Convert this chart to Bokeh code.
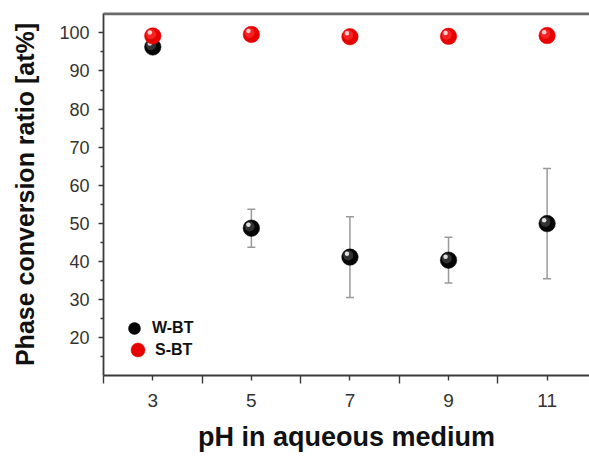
from bokeh.plotting import figure
from bokeh.models import (Range1d, FixedTicker, Whisker, ColumnDataSource, Legend,
                          LegendItem, TeeHead, LinearAxis, Span)
from bokeh.embed import file_html
from bokeh.resources import INLINE

# ---- data ----
ph = [3, 5, 7, 9, 11]
wbt = [96.3, 48.7, 41.1, 40.3, 49.9]
wbt_err = [1.2, 5.0, 10.6, 6.0, 14.5]
sbt = [99.2, 99.6, 99.0, 99.1, 99.3]
x_major = [3, 5, 7, 9, 11]
x_minor = [2, 4, 6, 8, 10]
y_major = [20, 30, 40, 50, 60, 70, 80, 90, 100]
y_minor = [15, 25, 35, 45, 55, 65, 75, 85, 95]
series_names = ["W-BT", "S-BT"]
x_title = "pH in aqueous medium"
y_title = "Phase conversion ratio [at%]"

X0, X1 = 2, 11.86
Y0, Y1 = 10, 105.1
FONT = "Liberation Sans"

p = figure(width=589, height=456, x_range=Range1d(X0, X1), y_range=Range1d(Y0, Y1),
           output_backend="svg", toolbar_location=None,
           min_border_left=103, min_border_top=13, min_border_right=0, min_border_bottom=81)
p.outline_line_color = None
p.grid.visible = False
p.background_fill_color = "white"
p.border_fill_color = "white"

xa = p.below[0]
ya = p.left[0]

# top frame line (axis without ticks or labels)
top = LinearAxis(ticker=FixedTicker(ticks=[]), major_label_text_font_size="0px",
                 major_tick_out=0, minor_tick_out=0, major_label_standoff=0,
                 axis_line_color="#6a6a6a", axis_line_width=2.2)
p.add_layout(top, "above")
p.add_layout(Span(location=Y1 - 0.2, dimension="width", line_color="#6a6a6a",
                  line_width=2, level="overlay"))

# axes
xa.ticker = FixedTicker(ticks=x_major, minor_ticks=x_minor)
ya.ticker = FixedTicker(ticks=y_major, minor_ticks=y_minor)
for ax in (xa, ya):
    ax.axis_line_color = "#3a3a3a"
    ax.axis_line_width = 1.8
    ax.major_tick_line_color = "#3a3a3a"
    ax.minor_tick_line_color = "#3a3a3a"
    ax.major_tick_line_width = 1.4
    ax.minor_tick_line_width = 1.4
    ax.major_tick_in = 0
    ax.minor_tick_in = 0
    ax.major_label_text_font = FONT
    ax.major_label_text_color = "#333333"
    ax.axis_label_text_font = FONT
    ax.axis_label_text_font_style = "bold"
    ax.axis_label_text_color = "#111111"
xa.major_tick_out = 5
xa.minor_tick_out = 8
xa.major_label_text_font_size = "19px"
xa.major_label_standoff = 10
xa.axis_label = x_title
xa.axis_label_text_font_size = "27px"
xa.axis_label_standoff = 12
ya.major_tick_out = 5
ya.minor_tick_out = 3
ya.major_label_text_font_size = "18px"
ya.major_label_standoff = 9
ya.axis_label = y_title
ya.axis_label_text_font_size = "25px"
ya.axis_label_standoff = 17

# error bars
lower = [v - e for v, e in zip(wbt, wbt_err)]
upper = [v + e for v, e in zip(wbt, wbt_err)]
esrc = ColumnDataSource(dict(x=ph, lower=lower, upper=upper))
wh = Whisker(source=esrc, base="x", lower="lower", upper="upper",
             line_color="#9a9a9a", line_width=1.5, level="underlay",
             upper_head=TeeHead(size=8, line_color="#9a9a9a", line_width=1.5),
             lower_head=TeeHead(size=8, line_color="#9a9a9a", line_width=1.5))
p.add_layout(wh)

# sphere-like markers
dx1, dy1 = 0.035, 0.45
dx2, dy2 = 0.06, 0.9

def sphere(xs, ys, base, mid, hi):
    r = p.scatter(xs, ys, size=16.5, fill_color=base, line_color=base, line_width=0.5)
    p.scatter([x - dx1 for x in xs], [y + dy1 for y in ys], size=10,
              fill_color=mid, line_color=None, fill_alpha=0.6)
    p.scatter([x - dx2 for x in xs], [y + dy2 for y in ys], size=4.5,
              fill_color=hi, line_color=None, fill_alpha=0.95)
    return r

r_w = sphere(ph, wbt, "#050505", "#505050", "#e8e8e8")
r_s = sphere(ph, sbt, "#e60000", "#ff3a3a", "#ffd6d6")

def legend_for(label, rend, loc, g, standoff):
    return Legend(items=[LegendItem(label=label, renderers=[rend])],
                  location=loc, glyph_width=g, glyph_height=g,
                  padding=0, margin=0, label_standoff=standoff,
                  label_text_font=FONT, label_text_font_style="bold",
                  label_text_font_size="16px", label_text_color="#111111",
                  background_fill_alpha=0, border_line_color=None)

p.add_layout(legend_for(series_names[0], r_w, (16, 32), 30, 3))
p.add_layout(legend_for(series_names[1], r_s, (17, 8), 35, 0))

open("out.html", "w").write(file_html(p, INLINE))
